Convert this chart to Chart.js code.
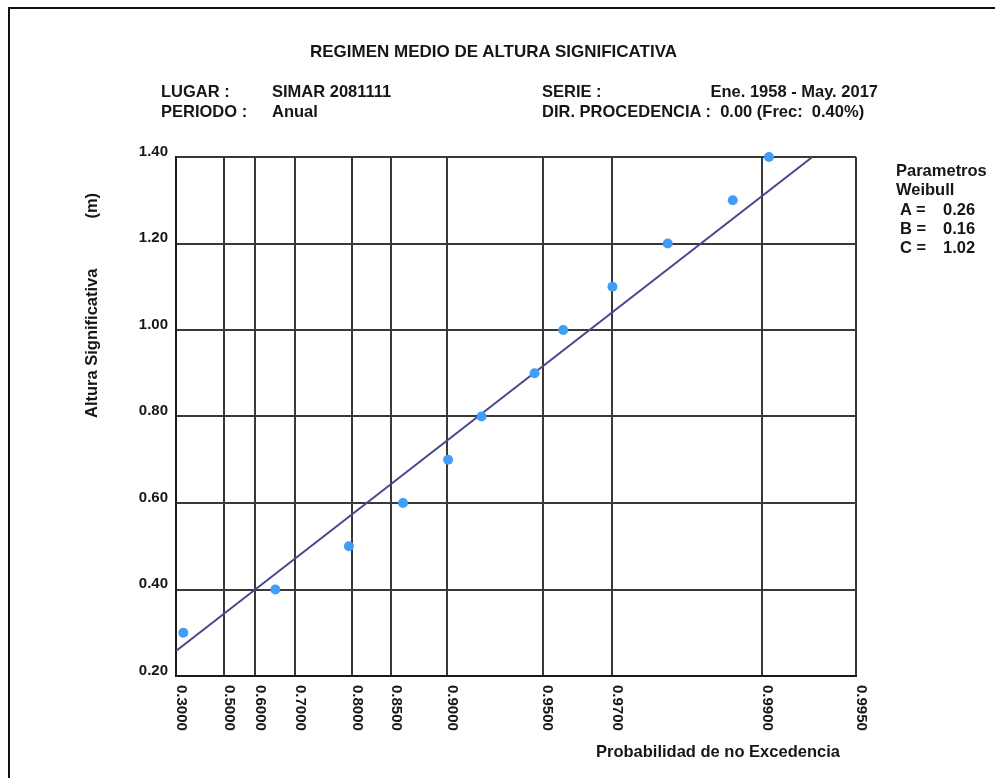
<!DOCTYPE html>
<html>
<head>
<meta charset="utf-8">
<script src="https://cdn.jsdelivr.net/npm/chart.js@4.4.1/dist/chart.umd.min.js"></script>
<style>
  body { margin: 0; background: #fff; overflow: hidden; }
  #wrap { position: relative; width: 995px; height: 778px; }
  #frame { position: absolute; left: 8px; top: 7px; width: 1000px; height: 800px; border: 2px solid #111; }
  canvas { position: absolute; left: 0; top: 0; }
  .t { position: absolute; font: bold 16.5px "Liberation Sans", Arial, sans-serif; line-height: 16.5px; color: #161616; white-space: pre; }
</style>
</head>
<body>
<div id="wrap">
  <div id="frame"></div>
  <canvas id="weibullChart" width="995" height="778"></canvas>

  <div class="t" style="left:310px;top:43px;font-size:17px;line-height:17px;">REGIMEN MEDIO DE ALTURA SIGNIFICATIVA</div>
  <div class="t" style="left:161px;top:83px;">LUGAR :</div>
  <div class="t" style="left:272px;top:83px;">SIMAR 2081111</div>
  <div class="t" style="left:542px;top:83px;">SERIE :</div>
  <div class="t" style="right:117px;top:83px;">Ene. 1958 - May. 2017</div>
  <div class="t" style="left:161px;top:103px;">PERIODO :</div>
  <div class="t" style="left:272px;top:103px;">Anual</div>
  <div class="t" style="left:542px;top:103px;">DIR. PROCEDENCIA :  0.00 (Frec:  0.40%)</div>

  <div class="t" style="left:896px;top:162px;">Parametros</div>
  <div class="t" style="left:896px;top:181px;">Weibull</div>
  <div class="t" style="left:900px;top:201px;">A =<span style="position:absolute;left:43px">0.26</span></div>
  <div class="t" style="left:900px;top:220px;">B =<span style="position:absolute;left:43px">0.16</span></div>
  <div class="t" style="left:900px;top:239px;">C =<span style="position:absolute;left:43px">1.02</span></div>

  <div class="t" style="left:83px;top:418px;transform-origin:0 0;transform:rotate(-90deg);">Altura Significativa<span style="margin-left:50px">(m)</span></div>
  <div class="t" style="left:596px;top:743px;">Probabilidad de no Excedencia</div>
</div>

<script>
// eje x: probabilidad de no excedencia (escala Weibull)
const probTicks = [0.3000, 0.5000, 0.6000, 0.7000, 0.8000, 0.8500, 0.9000, 0.9500, 0.9700, 0.9900, 0.9950];
const heightTicks = [0.20, 0.40, 0.60, 0.80, 1.00, 1.20, 1.40];

// puntos observados
const sampleProb = [0.335, 0.654, 0.796, 0.862, 0.9005, 0.922, 0.947, 0.957, 0.970, 0.980, 0.9876, 0.9905];
const sampleHeight = [0.30, 0.40, 0.50, 0.60, 0.70, 0.80, 0.90, 1.00, 1.10, 1.20, 1.30, 1.40];

// recta de ajuste (extremos)
const fitProb = [0.3000, 0.9931];
const fitHeight = [0.258, 1.400];

const weibullC = 1.02;

function probToAxis(p) {
  return Math.pow(-Math.log(1 - p), 1 / weibullC);
}

const gridColor = '#383838';

const probLabels = {
  id: 'probLabels',
  afterDraw(chart) {
    const { ctx, chartArea } = chart;
    const x = chart.scales.x;
    ctx.save();
    ctx.font = 'bold 15px "Liberation Sans", Arial, sans-serif';
    ctx.fillStyle = '#161616';
    ctx.textAlign = 'left';
    ctx.textBaseline = 'middle';
    probTicks.forEach(p => {
      const px = x.getPixelForValue(probToAxis(p));
      ctx.save();
      ctx.translate(px + 5, chartArea.bottom + 9);
      ctx.rotate(Math.PI / 2);
      ctx.fillText(p.toFixed(4), 0, 0);
      ctx.restore();
    });
    ctx.restore();
  }
};

const ctx = document.getElementById('weibullChart').getContext('2d');
const chart = new Chart(ctx, {
  type: 'scatter',
  data: {
    datasets: [{
      label: 'Datos',
      data: sampleProb.map((p, i) => ({ x: probToAxis(p), y: sampleHeight[i] })),
      pointRadius: 5,
      pointBackgroundColor: '#3f9ef7',
      pointBorderWidth: 0,
      showLine: false,
      clip: false
    }, {
      type: 'line',
      label: 'Ajuste',
      data: fitProb.map((p, i) => ({ x: probToAxis(p), y: fitHeight[i] })),
      borderColor: '#4a4690',
      borderWidth: 2,
      pointRadius: 0,
      fill: false
    }]
  },
  options: {
    responsive: false,
    animation: false,
    layout: { padding: { top: 157, right: 139, left: 0, bottom: 0 } },
    plugins: { legend: { display: false }, tooltip: { enabled: false } },
    scales: {
      x: {
        type: 'linear',
        min: probToAxis(probTicks[0]),
        max: probToAxis(probTicks[probTicks.length - 1]),
        afterBuildTicks: axis => { axis.ticks = probTicks.map(p => ({ value: probToAxis(p) })); },
        afterFit: axis => { axis.height = 102; },
        ticks: { display: false },
        grid: { color: gridColor, lineWidth: 2, drawTicks: false },
        border: { color: '#1a1a1a', width: 2 }
      },
      y: {
        min: 0.2,
        max: 1.4,
        afterBuildTicks: axis => { axis.ticks = heightTicks.map(v => ({ value: v })); },
        afterFit: axis => { axis.width = 176; },
        ticks: {
          padding: 8,
          color: '#161616',
          font: { family: '"Liberation Sans", Arial, sans-serif', size: 15, weight: 'bold', lineHeight: 0.7 },
          callback: v => [Number(v).toFixed(2), '']
        },
        grid: { color: gridColor, lineWidth: 2, drawTicks: false },
        border: { color: '#1a1a1a', width: 2 }
      }
    }
  },
  plugins: [probLabels]
});
</script>
</body>
</html>
